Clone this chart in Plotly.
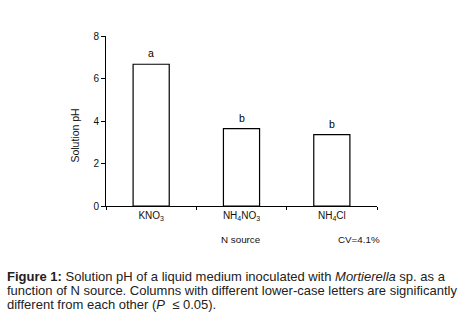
import plotly.graph_objects as go

categories = ["KNO<sub>3</sub>", "NH<sub>4</sub>NO<sub>3</sub>", "NH<sub>4</sub>Cl"]
ph_values = [6.67, 3.64, 3.36]
letters = ["a", "b", "b"]
y_ticks = [0, 2, 4, 6, 8]

FONT = "Liberation Sans, Arial, sans-serif"
L, R, T, B = 105.7, 81.3, 35.7, 112.3
W, H = 458, 318
PW, PH = W - L - R, H - T - B


def px(x):
    return (x - L) / PW


def py(y):
    return (H - B - y) / PH


fig = go.Figure()
fig.add_trace(go.Bar(
    x=categories, y=ph_values, width=0.4,
    marker=dict(color="white", line=dict(color="black", width=1.2)),
    hoverinfo="skip",
))

for cat, val, let in zip(categories, ph_values, letters):
    fig.add_annotation(x=cat, y=val, text=let, showarrow=False,
                       yanchor="middle", xanchor="center", yshift=11,
                       font=dict(size=10.5, color="black"))

fig.update_layout(
    width=W, height=H,
    margin=dict(l=L, r=R, t=T, b=B),
    paper_bgcolor="white", plot_bgcolor="white",
    showlegend=False,
    font=dict(family=FONT, size=10, color="#111"),
    xaxis=dict(
        type="category", range=[-0.5, 2.5], tickson="boundaries",
        ticks="outside", ticklen=3, tickcolor="black", tickwidth=1,
        showline=True, linecolor="black", linewidth=1, showgrid=False,
        tickfont=dict(size=10),
    ),
    yaxis=dict(
        range=[0, 8], tickvals=y_ticks, ticks="outside", ticklen=4,
        tickcolor="black", showline=True, linecolor="black", linewidth=1,
        showgrid=False, zeroline=False, tickfont=dict(size=10),
    ),
)

fig.add_annotation(text="Solution pH", xref="paper", yref="paper",
                   x=px(75), y=py(135), textangle=-90, showarrow=False,
                   font=dict(size=10.5), xanchor="center", yanchor="middle")
fig.add_annotation(text="N source", xref="paper", yref="paper",
                   x=px(241), y=py(239),
                   showarrow=False, font=dict(size=9.8), xanchor="center", yanchor="middle")
fig.add_annotation(text="CV=4.1%", xref="paper", yref="paper",
                   x=px(336), y=py(239),
                   showarrow=False, font=dict(size=9.8), xanchor="left", yanchor="middle")

caption = [
    "<b>Figure 1:</b> Solution pH of a liquid medium inoculated with <i>Mortierella</i> sp. as a",
    "function of N source. Columns with different lower-case letters are significantly",
    "different from each other (<i>P</i>  ≤ 0.05).",
]
caption_y = [275.7, 290.0, 304.0]
for line, yy in zip(caption, caption_y):
    fig.add_annotation(text=line, xref="paper", yref="paper",
                       x=px(5), y=py(yy),
                       showarrow=False, xanchor="left", yanchor="middle",
                       font=dict(size=13, color="#222"))

fig.write_html("out.html", config={"displayModeBar": False},
               post_script="document.body.style.margin='0';")
